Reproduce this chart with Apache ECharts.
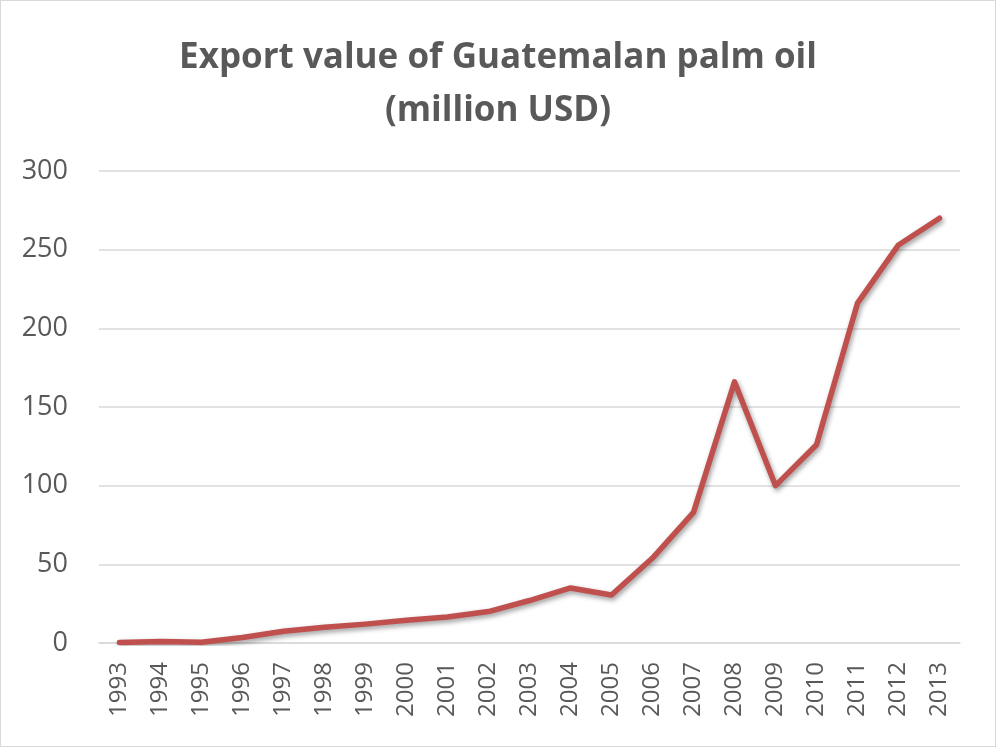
<!DOCTYPE html>
<html>
<head>
<meta charset="utf-8">
<script src="https://cdn.jsdelivr.net/npm/echarts@6/dist/echarts.min.js"></script>
<style>
  html, body { margin: 0; padding: 0; background: #fff; }
  #chart { width: 994px; height: 745px; border: 1px solid #d9d9d9; }
</style>
</head>
<body>
<div id="chart"></div>
<script>
// Export value of Guatemalan palm oil, million USD
const years = ['1993','1994','1995','1996','1997','1998','1999','2000','2001','2002',
               '2003','2004','2005','2006','2007','2008','2009','2010','2011','2012','2013'];
const exportValue = [0.3, 1, 0.5, 3.5, 7.5, 10, 12, 14.5, 16.5, 20,
                     27, 35, 30.5, 54, 83, 166, 100, 126, 216, 253, 270];
const yTicks = { min: 0, max: 300, interval: 50 };

const chart = echarts.init(document.getElementById('chart'));
const textColor = '#595959';
const gridColor = '#d9d9d9';

chart.setOption({
  animation: false,
  title: {
    text: 'Export value of Guatemalan palm oil\n(million USD)',
    left: 'center',
    top: 26,
    textStyle: {
      fontFamily: 'Open Sans',
      fontWeight: 'bold',
      fontSize: 35,
      lineHeight: 53,
      color: textColor
    }
  },
  grid: { left: 98, right: 35, top: 170, bottom: 103 },
  xAxis: {
    type: 'category',
    data: years,
    boundaryGap: true,
    axisLine: { lineStyle: { color: gridColor, width: 1.5 } },
    axisTick: { show: false },
    axisLabel: {
      rotate: 90,
      margin: 19,
      color: textColor,
      fontSize: 24,
      fontFamily: 'Open Sans'
    }
  },
  yAxis: {
    type: 'value',
    min: yTicks.min,
    max: yTicks.max,
    interval: yTicks.interval,
    axisLine: { show: false },
    axisTick: { show: false },
    splitLine: { lineStyle: { color: gridColor, width: 1.5 } },
    axisLabel: {
      margin: 31,
      color: textColor,
      fontSize: 27,
      fontFamily: 'Open Sans'
    }
  },
  series: [{
    type: 'line',
    data: exportValue,
    symbol: 'none',
    lineStyle: {
      color: '#C0504D',
      width: 5.5,
      cap: 'round',
      join: 'round',
      shadowColor: 'rgba(0,0,0,0.4)',
      shadowBlur: 5,
      shadowOffsetX: 1.5,
      shadowOffsetY: 2.5
    }
  }]
});
</script>
</body>
</html>
